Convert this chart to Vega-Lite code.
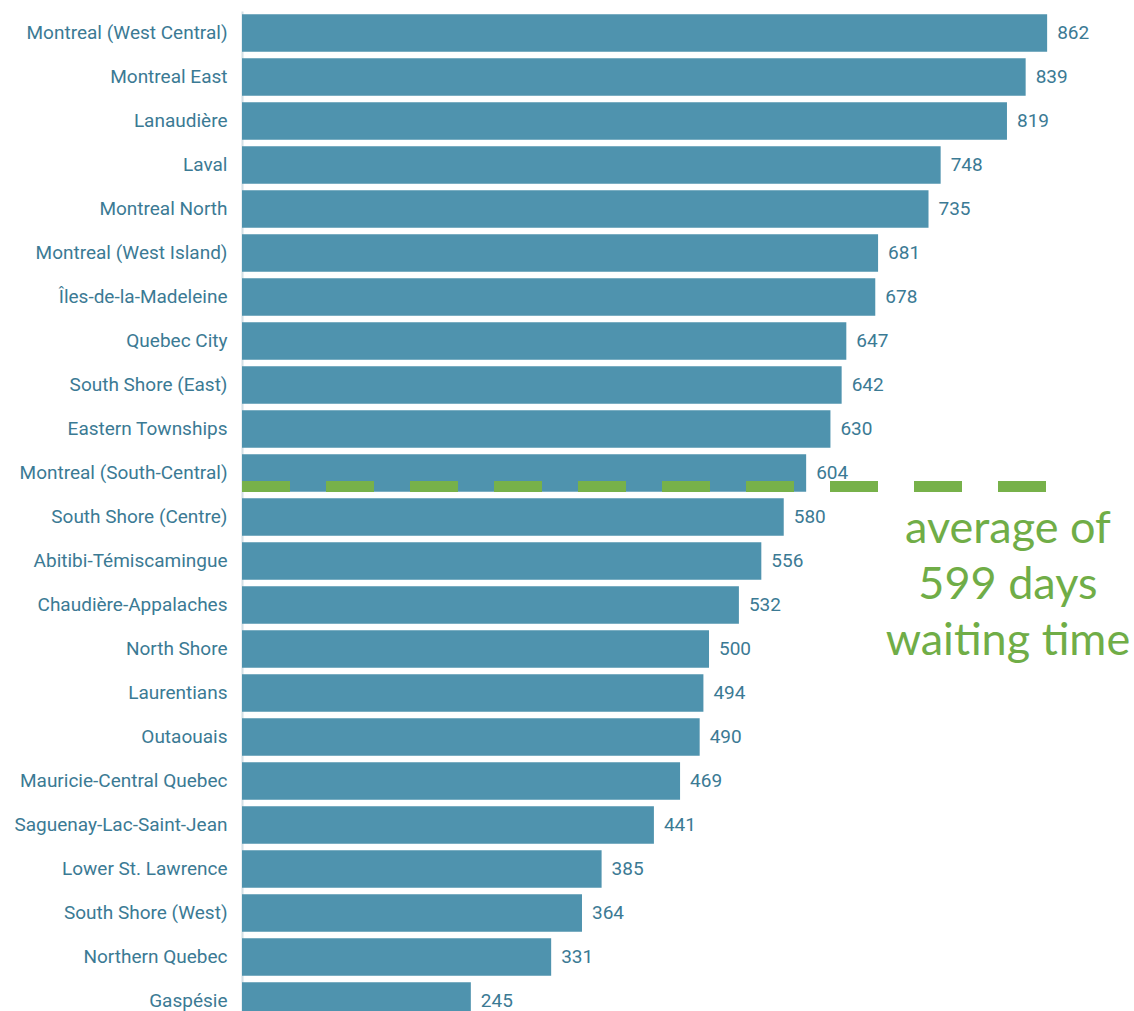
{
  "$schema": "https://vega.github.io/schema/vega-lite/v6.json",
  "width": 892,
  "height": 1012,
  "autosize": {"type": "none"},
  "padding": {"left": 242, "top": 11, "right": 0, "bottom": 0},
  "background": "white",
  "config": {"view": {"stroke": null}},
  "datasets": {
    "waits": [
      {"region": "Montreal (West Central)", "days": 862},
      {"region": "Montreal East", "days": 839},
      {"region": "Lanaudière", "days": 819},
      {"region": "Laval", "days": 748},
      {"region": "Montreal North", "days": 735},
      {"region": "Montreal (West Island)", "days": 681},
      {"region": "Îles-de-la-Madeleine", "days": 678},
      {"region": "Quebec City", "days": 647},
      {"region": "South Shore (East)", "days": 642},
      {"region": "Eastern Townships", "days": 630},
      {"region": "Montreal (South-Central)", "days": 604},
      {"region": "South Shore (Centre)", "days": 580},
      {"region": "Abitibi-Témiscamingue", "days": 556},
      {"region": "Chaudière-Appalaches", "days": 532},
      {"region": "North Shore", "days": 500},
      {"region": "Laurentians", "days": 494},
      {"region": "Outaouais", "days": 490},
      {"region": "Mauricie-Central Quebec", "days": 469},
      {"region": "Saguenay-Lac-Saint-Jean", "days": 441},
      {"region": "Lower St. Lawrence", "days": 385},
      {"region": "South Shore (West)", "days": 364},
      {"region": "Northern Quebec", "days": 331},
      {"region": "Gaspésie", "days": 245}
    ],
    "average": [
      {"region": "Montreal (South-Central)", "days": 599, "note": "average of\n599 days\nwaiting time", "noteRow": "South Shore (Centre)"}
    ]
  },
  "layer": [
    {
      "data": {"name": "waits"},
      "mark": {"type": "bar", "color": "#4f93ae"},
      "encoding": {
        "y": {
          "field": "region",
          "type": "nominal",
          "sort": null,
          "scale": {
            "domain": ["Montreal (West Central)", "Montreal East", "Lanaudière", "Laval", "Montreal North", "Montreal (West Island)", "Îles-de-la-Madeleine", "Quebec City", "South Shore (East)", "Eastern Townships", "Montreal (South-Central)", "South Shore (Centre)", "Abitibi-Témiscamingue", "Chaudière-Appalaches", "North Shore", "Laurentians", "Outaouais", "Mauricie-Central Quebec", "Saguenay-Lac-Saint-Jean", "Lower St. Lawrence", "South Shore (West)", "Northern Quebec", "Gaspésie"],
            "paddingInner": 0.15,
            "paddingOuter": 0.075
          },
          "axis": {
            "title": null,
            "ticks": false,
            "domainColor": "#d3e0e6",
            "domainWidth": 2,
            "labelPadding": 15,
            "labelLimit": 0,
            "labelFont": "Roboto",
            "labelFontSize": 19,
            "labelColor": "#3b7a94"
          }
        },
        "x": {
          "field": "days",
          "type": "quantitative",
          "scale": {"domain": [0, 955], "nice": false},
          "axis": null
        }
      }
    },
    {
      "data": {"name": "waits"},
      "mark": {"type": "text", "align": "left", "baseline": "middle", "dx": 10, "font": "Roboto", "fontSize": 19, "color": "#3b7a94"},
      "encoding": {
        "y": {"field": "region", "type": "nominal", "sort": null},
        "x": {"field": "days", "type": "quantitative"},
        "text": {"field": "days", "type": "quantitative"}
      }
    },
    {
      "data": {"name": "average"},
      "mark": {"type": "rule", "color": "#77b14a", "strokeWidth": 11, "strokeDash": [48, 36], "strokeCap": "butt"},
      "encoding": {
        "y": {"field": "region", "type": "nominal", "sort": null, "bandPosition": 0.86},
        "x": {"datum": 0},
        "x2": {"datum": 861}
      }
    },
    {
      "data": {"name": "average"},
      "mark": {"type": "text", "align": "center", "baseline": "alphabetic", "dy": 26, "lineBreak": "\n", "lineHeight": 56, "font": "Lato", "fontSize": 45, "color": "#70ad47"},
      "encoding": {
        "y": {"field": "noteRow", "type": "nominal", "sort": null},
        "x": {"datum": 820},
        "text": {"field": "note"}
      }
    }
  ]
}
